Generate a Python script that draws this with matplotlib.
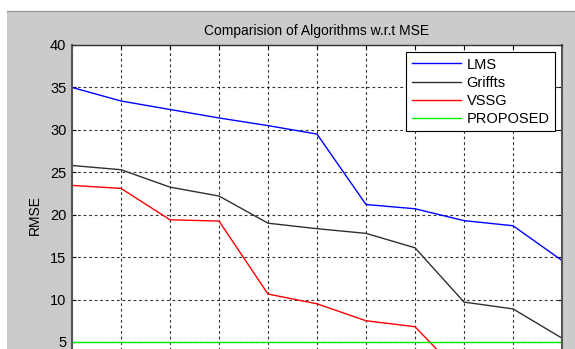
import numpy as np
import matplotlib.pyplot as plt
from matplotlib.patches import Rectangle
from matplotlib.lines import Line2D

plt.rcParams['font.family'] = ['Liberation Sans', 'DejaVu Sans']

# RMSE of each algorithm at every iteration step
steps = [1, 2, 3, 4, 5, 6, 7, 8, 9, 10, 11]
lms = [35.0, 33.4, 32.4, 31.4, 30.5, 29.5, 21.2, 20.7, 19.3, 18.7, 14.6]
griffts = [25.8, 25.3, 23.25, 22.2, 19.0, 18.35, 17.8, 16.1, 9.7, 8.9, 5.45]
vssg = [23.45, 23.1, 19.4, 19.25, 10.65, 9.5, 7.5, 6.8, 0.8, 0.5, 0.3]
proposed = [5.05, 5.05, 5.05, 5.05, 5.05, 5.05, 5.05, 5.05, 5.05, 5.05, 5.05]
yticks = [5, 10, 15, 20, 25, 30, 35, 40]

series = [
    ('LMS', lms, '#0000ff'),
    ('Griffts', griffts, '#303030'),
    ('VSSG', vssg, '#ff0000'),
    ('PROPOSED', proposed, '#00ee00'),
]

W, H = 575, 349
fig = plt.figure(figsize=(W / 100, H / 100), dpi=100)
fig.patch.set_facecolor('white')

# grey matlab-style figure window
fig.patches.append(Rectangle((7 / W, 0), 1 - 7 / W, (H - 11) / H,
                             transform=fig.transFigure, facecolor='#cbcbcb',
                             edgecolor='none', zorder=-5))
fig.lines.append(Line2D([7 / W, 1], [(H - 11) / H, (H - 11) / H],
                        transform=fig.transFigure, color='#9a9a9a', lw=1.0,
                        zorder=-4))

# axes run below the bottom edge (y from 0 to 40)
ax_left, ax_right = 72, 562
ax_top, ax_bottom = 45, 384.4
ax = fig.add_axes([ax_left / W, (H - ax_bottom) / H,
                   (ax_right - ax_left) / W, (ax_bottom - ax_top) / H])
ax.set_facecolor('white')

for name, vals, col in series:
    ax.plot(steps, vals, color=col, lw=1.0, label=name)

ax.set_xlim(1, 11)
ax.set_ylim(0, 40)
ax.set_xticks(steps)
ax.set_xticklabels([])
ax.set_yticks(yticks)
ax.tick_params(axis='y', labelsize=10.5, direction='in', length=3, right=True, pad=4)
ax.tick_params(axis='x', direction='in', length=3, top=True)
ax.grid(True, color='black', linestyle=(0, (2.5, 2.5)), lw=0.8, alpha=0.8)

for s in ax.spines.values():
    s.set_color('#333333')
    s.set_linewidth(1.0)
ax.spines['left'].set_color('#555555')
ax.spines['left'].set_linewidth(1.5)
ax.spines['right'].set_color('#555555')
ax.spines['right'].set_linewidth(1.5)

ax.set_title('Comparision of Algorithms w.r.t MSE', fontsize=10, pad=7)
ax.set_ylabel('RMSE', fontsize=10, labelpad=6)

leg = ax.legend(loc='upper right', bbox_to_anchor=(0.9857, 0.9794),
                borderaxespad=0, fontsize=10.5, fancybox=False, framealpha=1,
                edgecolor='black', handlelength=3.4, labelspacing=0.28,
                handletextpad=0.35, borderpad=0.38)
leg.get_frame().set_linewidth(0.8)

fig.savefig('out.png', dpi=100)
